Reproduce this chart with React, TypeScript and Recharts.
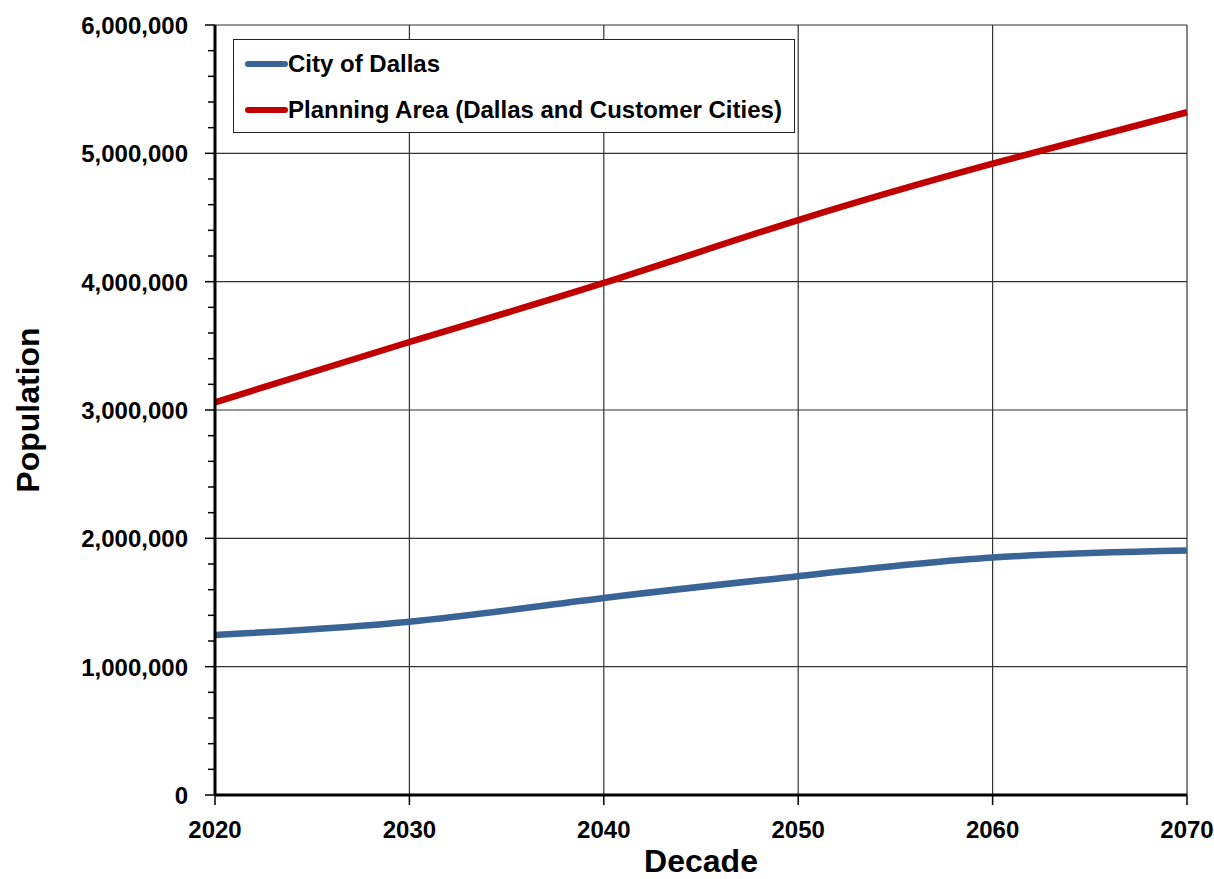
import { LineChart, Line, XAxis, YAxis, CartesianGrid, Legend, Label } from 'recharts'

const decades = [2020, 2030, 2040, 2050, 2060, 2070]
const dallas = [1247000, 1350000, 1535000, 1705000, 1850000, 1905000]
const planningArea = [3060000, 3530000, 3990000, 4480000, 4920000, 5320000]
const majorTicks = [0, 1000000, 2000000, 3000000, 4000000, 5000000, 6000000]
const minorTicks = [
  0, 200000, 400000, 600000, 800000, 1000000, 1200000, 1400000, 1600000, 1800000,
  2000000, 2200000, 2400000, 2600000, 2800000, 3000000, 3200000, 3400000, 3600000,
  3800000, 4000000, 4200000, 4400000, 4600000, 4800000, 5000000, 5200000, 5400000,
  5600000, 5800000, 6000000,
]

const chartData = decades.map((d, i) => ({
  decade: d,
  'City of Dallas': dallas[i],
  'Planning Area (Dallas and Customer Cities)': planningArea[i],
}))

const FONT = "'Liberation Sans', Arial, sans-serif"

const YTick = (props: any) => {
  const { x, y, payload } = props
  const v = payload.value as number
  const isMajor = v % 1000000 === 0
  return (
    <g>
      <line x1={x - (isMajor ? 10 : 7)} x2={x} y1={y} y2={y} stroke="#000" strokeWidth={1.5} />
      {isMajor && (
        <text
          x={x - 27}
          y={y}
          dy={9}
          textAnchor="end"
          fontFamily={FONT}
          fontWeight="bold"
          fontSize={24}
          fill="#000"
        >
          {v.toLocaleString('en-US')}
        </text>
      )}
    </g>
  )
}

const LegendBox = () => (
  <div
    style={{
      width: 562,
      height: 94,
      border: '1.5px solid #222',
      background: '#fff',
      boxSizing: 'border-box',
      fontFamily: FONT,
      fontWeight: 'bold',
      fontSize: 24,
      color: '#000',
      padding: '1px 0 0 11px',
    }}
  >
    {[
      { label: 'City of Dallas', color: '#3a6496' },
      { label: 'Planning Area (Dallas and Customer Cities)', color: '#c00000' },
    ].map(item => (
      <div key={item.label} style={{ display: 'flex', alignItems: 'center', height: 46 }}>
        <div style={{ width: 43, height: 6, borderRadius: 3, background: item.color }} />
        <span>{item.label}</span>
      </div>
    ))}
  </div>
)

export default function App() {
  return (
    <div style={{ position: 'absolute', left: 0, top: 0, background: '#fff' }}>
      <LineChart
        width={1214}
        height={879}
        data={chartData}
        margin={{ top: 25, right: 27, bottom: 0, left: 0 }}
      >
        <CartesianGrid stroke="#333" strokeWidth={1.2} horizontalValues={majorTicks} />
        <XAxis
          dataKey="decade"
          type="number"
          domain={[2020, 2070]}
          ticks={decades}
          height={84}
          axisLine={{ stroke: '#000', strokeWidth: 3 }}
          tickLine={{ stroke: '#000', strokeWidth: 1.5 }}
          tickSize={10}
          tickMargin={16}
          tick={{ fill: '#000', fontSize: 24, fontWeight: 'bold', fontFamily: FONT }}
        >
          <Label
            value="Decade"
            position="insideBottom"
            offset={7}
            style={{ fill: '#000', fontSize: 32, fontWeight: 'bold', fontFamily: FONT }}
          />
        </XAxis>
        <YAxis
          width={215}
          domain={[0, 6000000]}
          ticks={minorTicks}
          interval={0}
          axisLine={{ stroke: '#000', strokeWidth: 3 }}
          tickLine={false}
          tickSize={0}
          tickMargin={0}
          tick={YTick}
        >
          <Label
            value="Population"
            angle={-90}
            position="insideLeft"
            offset={28}
            style={{ fill: '#000', fontSize: 32, fontWeight: 'bold', fontFamily: FONT, textAnchor: 'middle' }}
          />
        </YAxis>
        <Legend
          layout="horizontal"
          verticalAlign="middle"
          align="center"
          wrapperStyle={{ top: 39, left: 233, width: 562 }}
          content={() => <LegendBox />}
        />
        <Line
          type="natural"
          dataKey="City of Dallas"
          stroke="#3a6496"
          strokeWidth={6.5}
          dot={false}
          isAnimationActive={false}
        />
        <Line
          type="natural"
          dataKey="Planning Area (Dallas and Customer Cities)"
          stroke="#c00000"
          strokeWidth={6.5}
          dot={false}
          isAnimationActive={false}
        />
      </LineChart>
    </div>
  )
}
